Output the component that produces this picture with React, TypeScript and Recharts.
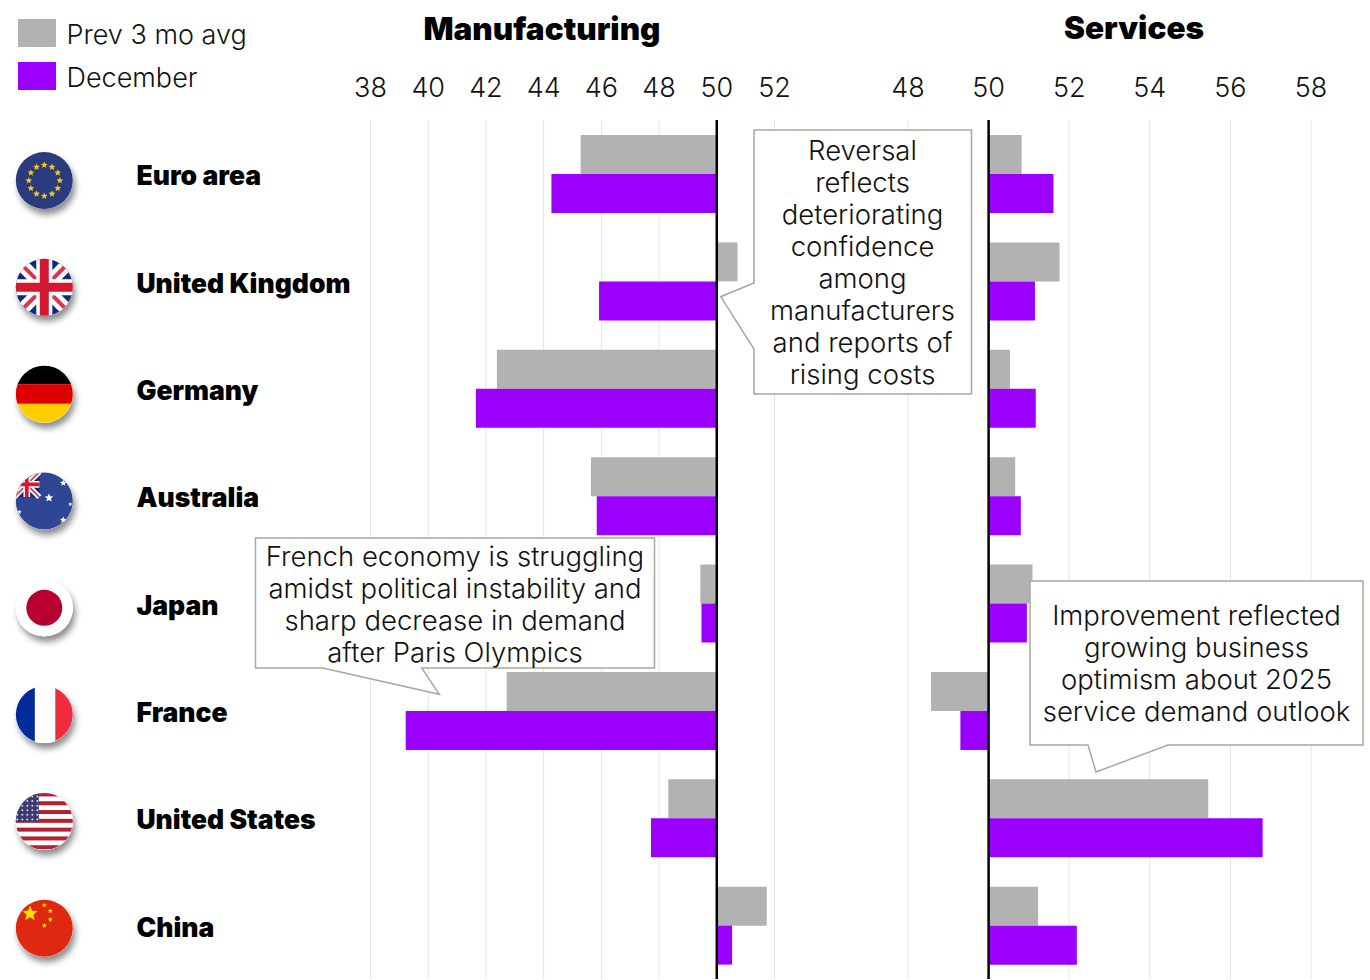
import React from "react";
import {
  BarChart,
  Bar,
  XAxis,
  YAxis,
  CartesianGrid,
  ReferenceLine,
} from "recharts";

const countries = [
  "Euro area",
  "United Kingdom",
  "Germany",
  "Australia",
  "Japan",
  "France",
  "United States",
  "China",
];
const mfgPrev = [45.28, 50.72, 42.38, 45.64, 49.43, 42.72, 48.32, 51.73];
const mfgDec = [44.27, 45.92, 41.65, 45.84, 49.47, 39.22, 47.72, 50.53];
const svcPrev = [50.82, 51.76, 50.53, 50.66, 51.09, 48.57, 55.45, 51.23];
const svcDec = [51.61, 51.15, 51.17, 50.8, 50.95, 49.3, 56.8, 52.19];
const mfgTicks = [38, 40, 42, 44, 46, 48, 50, 52];
const svcTicks = [48, 50, 52, 54, 56, 58];

const mfgData = countries.map((name, i) => ({ name, prev: mfgPrev[i], dec: mfgDec[i] }));
const svcData = countries.map((name, i) => ({ name, prev: svcPrev[i], dec: svcDec[i] }));

const GREY = "#b2b2b2";
const PURPLE = "#9b00ff";
const FONT = "Inter, sans-serif";
const BORDER = "#a8a89e";

const star = (cx: number, cy: number, r: number) => {
  let d = "";
  for (let i = 0; i < 10; i++) {
    const rad = i % 2 === 0 ? r : r * 0.45;
    const a = -Math.PI / 2 + (i * Math.PI) / 5;
    d += `${i === 0 ? "M" : "L"}${cx + rad * Math.cos(a)} ${cy + rad * Math.sin(a)}`;
  }
  return d + "Z";
};

const UnionJack = () => (
  <g>
    <rect x={-30} y={-30} width={60} height={60} fill="#12297c" />
    <path d="M-30 -30L30 30M30 -30L-30 30" stroke="#fff" strokeWidth={13} />
    <path d="M-30 -30L30 30M30 -30L-30 30" stroke="#d9374f" strokeWidth={4} />
    <path d="M0 -30V30M-30 0H30" stroke="#fff" strokeWidth={16} />
    <path d="M0 -30V30M-30 0H30" stroke="#d5182f" strokeWidth={9} />
  </g>
);

const FlagBody = ({ name }: { name: string }) => {
  switch (name) {
    case "Euro area":
      return (
        <g>
          <rect x={-30} y={-30} width={60} height={60} fill="#2a3b7e" />
          {Array.from({ length: 12 }, (_, i) => (
            <path
              key={i}
              d={star(
                15.5 * Math.cos((i * Math.PI) / 6),
                15.5 * Math.sin((i * Math.PI) / 6),
                3.6
              )}
              fill="#f4c81c"
            />
          ))}
        </g>
      );
    case "United Kingdom":
      return <UnionJack />;
    case "Germany":
      return (
        <g>
          <rect x={-30} y={-30} width={60} height={20} fill="#000" />
          <rect x={-30} y={-10} width={60} height={20} fill="#dd0000" />
          <rect x={-30} y={9.5} width={60} height={21} fill="#ffce00" />
        </g>
      );
    case "Australia":
      return (
        <g>
          <rect x={-30} y={-30} width={60} height={60} fill="#2e4693" />
          <g transform="translate(-17.5 -16.5) scale(0.42)">
            <UnionJack />
          </g>
          {[
            [4.7, -3, 4.5],
            [19, -18, 3.5],
            [26, 3.3, 2.2],
            [19, 19, 3.5],
            [-25, 11, 2.5],
          ].map(([x, y, r], i) => (
            <path key={i} d={star(x, y, r)} fill="#fff" />
          ))}
        </g>
      );
    case "Japan":
      return (
        <g>
          <rect x={-30} y={-30} width={60} height={60} fill="#fff" />
          <circle r={18} fill="#b7002f" />
        </g>
      );
    case "France":
      return (
        <g>
          <rect x={-30} y={-30} width={60} height={60} fill="#fff" />
          <rect x={-30} y={-30} width={20.5} height={60} fill="#002b9a" />
          <rect x={11} y={-30} width={20} height={60} fill="#ef2b3f" />
        </g>
      );
    case "United States":
      return (
        <g>
          <rect x={-30} y={-30} width={60} height={60} fill="#fff" />
          {Array.from({ length: 7 }, (_, i) => (
            <rect key={i} x={-30} y={-29 + i * 8.8} width={60} height={4} fill="#b22234" />
          ))}
          <rect x={-30} y={-30} width={24.5} height={30.5} fill="#3c3b6e" />
          {Array.from({ length: 6 }, (_, r) =>
            Array.from({ length: 5 }, (_, c) => (
              <circle
                key={`${r}-${c}`}
                cx={-27 + c * 5}
                cy={-25 + r * 4.6}
                r={1}
                fill="#dcdcec"
              />
            ))
          )}
        </g>
      );
    default:
      return (
        <g>
          <rect x={-30} y={-30} width={60} height={60} fill="#de2910" />
          <path d={star(-14.3, -14.7, 8)} fill="#ffde00" />
          {[
            [0, -23],
            [6, -17.3],
            [6, -8.7],
            [0, -2.7],
          ].map(([x, y], i) => (
            <path key={i} d={star(x, y, 2.6)} fill="#ffde00" />
          ))}
        </g>
      );
  }
};

const CountryTick = ({ y, payload, index }: any) => (
  <g>
    <g transform={`translate(44.3 ${y + 6.8 - index * 0.55})`}>
      <circle r={28.5} fill="#fff" filter="url(#flagShadow)" />
      <clipPath id={`flagClip${index}`}>
        <circle r={28.5} />
      </clipPath>
      <g clipPath={`url(#flagClip${index})`}>
        <FlagBody name={payload.value} />
      </g>
    </g>
    <text
      x={136.5}
      y={y + 11.5}
      fontFamily={FONT}
      fontSize={26.5}
      fontWeight={900}
      fill="#000"
    >
      {payload.value}
    </text>
  </g>
);

const tickStyle = { fill: "#111", fontSize: 27, fontFamily: FONT, fontWeight: 300 };

const Callout = ({ d, lines, cx, y0 }: { d: string; lines: string[]; cx: number; y0: number }) => (
  <g>
    <path d={d} fill="#fff" stroke={BORDER} strokeWidth={1.5} />
    {lines.map((t, i) => (
      <text
        key={t}
        x={cx}
        y={y0 + i * 32}
        textAnchor="middle"
        fontFamily={FONT}
        fontWeight={300}
        fontSize={27.5}
        fill="#111"
      >
        {t}
      </text>
    ))}
  </g>
);

const Panel = ({ data, ticks, domain, width, left, right, showLabels }: any) => (
  <BarChart
    width={width}
    height={980}
    data={data}
    layout="vertical"
    barCategoryGap={15}
    barGap={0}
    margin={{ top: 70, left, right, bottom: 1 }}
  >
    <CartesianGrid horizontal={false} stroke="#e4e4e4" strokeWidth={1} />
    <XAxis
      type="number"
      orientation="top"
      domain={domain}
      ticks={ticks}
      height={50}
      axisLine={false}
      tickLine={false}
      tickMargin={17}
      interval={0}
      tick={tickStyle}
    />
    <YAxis
      type="category"
      dataKey="name"
      width={showLabels ? 370 : 0}
      hide={!showLabels}
      axisLine={false}
      tickLine={false}
      tick={<CountryTick />}
      interval={0}
    />
    <Bar dataKey={(d: any) => [50, d.prev]} fill={GREY} isAnimationActive={false} />
    <Bar dataKey={(d: any) => [50, d.dec]} fill={PURPLE} isAnimationActive={false} />
    <ReferenceLine x={50} stroke="#000" strokeWidth={2.5} />
  </BarChart>
);

export default function App() {
  return (
    <div style={{ position: "absolute", left: 0, top: 0, width: 1370, height: 980, background: "#fff", overflow: "hidden" }}>
      <svg width={0} height={0} style={{ position: "absolute" }}>
        <defs>
          <filter id="flagShadow" x="-30%" y="-30%" width="170%" height="170%">
            <feDropShadow dx={2.5} dy={5.5} stdDeviation={3} floodColor="#000" floodOpacity={0.45} />
          </filter>
        </defs>
      </svg>
      <div style={{ position: "absolute", left: 0, top: 0 }}>
        <Panel data={mfgData} ticks={mfgTicks} domain={[38, 52]} width={800} left={0.5} right={25.5} showLabels />
      </div>
      <div style={{ position: "absolute", left: 800, top: 0 }}>
        <Panel data={svcData} ticks={svcTicks} domain={[48, 58]} width={570} left={108} right={59} showLabels={false} />
      </div>
      <svg width={1370} height={980} style={{ position: "absolute", left: 0, top: 0, pointerEvents: "none" }}>
        <rect x={18} y={19} width={38} height={28} fill={GREY} />
        <rect x={18} y={62} width={38} height={28} fill={PURPLE} />
        <text x={66.5} y={44} fontFamily={FONT} fontWeight={300} fontSize={27} fill="#111">Prev 3 mo avg</text>
        <text x={66.5} y={87} fontFamily={FONT} fontWeight={300} fontSize={27} fill="#111">December</text>
        <text x={542} y={40} textAnchor="middle" fontFamily={FONT} fontWeight={900} fontSize={31.5} fill="#000">Manufacturing</text>
        <text x={1134} y={39} textAnchor="middle" fontFamily={FONT} fontWeight={900} fontSize={31.5} fill="#000">Services</text>
        <Callout
          d="M754 130H971.5V394H754V349L720.7 296.7L754 283Z"
          cx={862.5}
          y0={160}
          lines={["Reversal", "reflects", "deteriorating", "confidence", "among", "manufacturers", "and reports of", "rising costs"]}
        />
        <Callout
          d="M255.5 538H654.5V668H421.7L439.3 694.3L322.7 668H255.5Z"
          cx={455}
          y0={566}
          lines={["French economy is struggling", "amidst political instability and", "sharp decrease in demand", "after Paris Olympics"]}
        />
        <Callout
          d="M1030 581H1363V745H1168L1096 772L1088 745H1030Z"
          cx={1196.5}
          y0={625}
          lines={["Improvement reflected", "growing business", "optimism about 2025", "service demand outlook"]}
        />
      </svg>
    </div>
  );
}
